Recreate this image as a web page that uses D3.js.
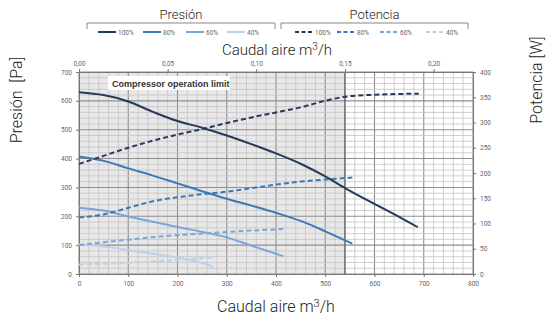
<!DOCTYPE html>
<html><head><meta charset="utf-8">
<script src="https://cdn.jsdelivr.net/npm/d3@7"></script>
<style>body{margin:0;background:#fff}svg{display:block}</style>
</head><body>
<svg id="c" width="549" height="321"></svg>
<script>
// ---- data ----
const pres100 = [[0,630],[50,620],[100,598],[150,562],[200,530],[250,507],[300,480],[350,450],[400,418],[450,382],[500,338],[540,298],[600,243],[650,198],[688,162]];
const pres80  = [[0,407],[50,392],[100,366],[150,341],[200,314],[250,287],[300,261],[350,237],[400,212],[450,184],[500,148],[555,105]];
const pres60  = [[0,230],[50,220],[100,199],[150,181],[200,163],[250,146],[300,127],[350,98],[415,62]];
const pres40  = [[0,103],[50,95],[100,83],[150,70],[200,57],[250,38],[272,25]];
const pow100  = [[0,218],[50,234],[100,250],[150,264],[200,276],[250,287],[300,299],[350,310],[400,320],[450,330],[500,343],[540,351],[600,355],[690,357]];
const pow80   = [[0,112],[50,118],[100,131],[150,144],[200,152],[250,158],[300,163],[350,170],[400,177],[450,183],[500,187],[555,191]];
const pow60   = [[0,57],[50,63],[100,68],[150,73],[200,77],[250,80],[300,83],[350,86],[415,89]];
const pow40   = [[0,19],[100,22],[200,28],[276,33]];
const xTicks = [0,100,200,300,400,500,600,700,800];
const xTopTicks = [0,0.05,0.10,0.15,0.20];
const yLeftTicks = [0,100,200,300,400,500,600,700];
const yRightTicks = [0,50,100,150,200,250,300,350,400];
const legendLabels = ["100%","80%","60%","40%"];
const limitFlow = 540;
const colors = ["#25395a","#3d78b5","#7aa6d8","#bcd2ec"];

// ---- layout ----
const svg = d3.select("#c");
const L = 79, R = 473, T = 72, B = 274;
const x = d3.scaleLinear().domain([0,800]).range([L,R]);
const xTop = d3.scaleLinear().domain([0,800/3600]).range([L,R]);
const yL = d3.scaleLinear().domain([0,700]).range([B,T]);
const yR = d3.scaleLinear().domain([0,400]).range([B,T]);

// shaded region
svg.append("rect").attr("x",x(0)).attr("y",T).attr("width",x(limitFlow)-x(0)).attr("height",B-T).attr("fill","#e8e8e8");

// grid
const g = svg.append("g");
d3.range(0,801,20).forEach(v=>{
  g.append("line").attr("x1",x(v)).attr("x2",x(v)).attr("y1",T).attr("y2",B)
   .attr("stroke", v%100===0 ? "#8f8f8f" : "#c4c4c4").attr("stroke-width", v%100===0?1.1:0.8);
});
d3.range(0,701,20).forEach(v=>{
  g.append("line").attr("x1",L).attr("x2",R).attr("y1",yL(v)).attr("y2",yL(v))
   .attr("stroke", v%100===0 ? "#8f8f8f" : "#c4c4c4").attr("stroke-width", v%100===0?1.1:0.8);
});
// limit line
svg.append("line").attr("x1",x(limitFlow)).attr("x2",x(limitFlow)).attr("y1",T).attr("y2",B).attr("stroke","#5a5a5a").attr("stroke-width",1.3);

// axes
const tickFont = "Roboto, sans-serif";
function styleAxis(sel){
  sel.selectAll("path").attr("stroke","#777");
  sel.selectAll("line").attr("stroke","#777");
  sel.selectAll("text").attr("fill","#666").attr("font-size","6.5px").attr("font-family",tickFont);
}
svg.append("g").attr("transform",`translate(0,${B})`)
  .call(d3.axisBottom(x).tickValues(xTicks).tickSize(3).tickSizeOuter(0).tickPadding(4)).call(styleAxis);
svg.append("g").attr("transform",`translate(0,${T})`)
  .call(d3.axisTop(xTop).tickValues(xTopTicks).tickSize(3).tickSizeOuter(0).tickPadding(3)
    .tickFormat(d=>d3.format(".2f")(d).replace(".",","))).call(styleAxis);
svg.append("g").attr("transform",`translate(${L},0)`)
  .call(d3.axisLeft(yL).tickValues(yLeftTicks).tickSize(3).tickSizeOuter(0).tickPadding(4)).call(styleAxis);
svg.append("g").attr("transform",`translate(${R},0)`)
  .call(d3.axisRight(yR).tickValues(yRightTicks).tickSize(3).tickSizeOuter(0).tickPadding(4)).call(styleAxis);

// label box
svg.append("rect").attr("x",108).attr("y",76).attr("width",122).attr("height",14).attr("fill","#fff");
svg.append("text").attr("x",112).attr("y",87).text("Compressor operation limit")
  .attr("font-family","Liberation Sans, Arial, sans-serif").attr("font-size","9px").attr("fill","#333").attr("font-weight","bold");

// curves
const lineL = d3.line().x(d=>x(d[0])).y(d=>yL(d[1])).curve(d3.curveMonotoneX);
const lineR = d3.line().x(d=>x(d[0])).y(d=>yR(d[1])).curve(d3.curveMonotoneX);
const presSeries = [pres100,pres80,pres60,pres40];
const powSeries = [pow100,pow80,pow60,pow40];
[3,2,1,0].forEach(i=>{
  svg.append("path").datum(powSeries[i]).attr("d",lineR).attr("fill","none")
    .attr("stroke",colors[i]).attr("stroke-width",2).attr("stroke-dasharray","5,3");
  svg.append("path").datum(presSeries[i]).attr("d",lineL).attr("fill","none")
    .attr("stroke",colors[i]).attr("stroke-width",2);
});

// axis titles
const titleFont = "Roboto, sans-serif";
function title(sel, size){
  return sel.attr("font-family",titleFont).attr("font-size",size+"px").attr("font-weight",300).attr("fill","#222").attr("text-anchor","middle");
}
title(svg.append("text").attr("x",277).attr("y",55),15)
  .html('Caudal aire m<tspan dy="-5" font-size="10px">3</tspan><tspan dy="5">/h</tspan>');
title(svg.append("text").attr("x",276).attr("y",312),16)
  .html('Caudal aire m<tspan dy="-5" font-size="11px">3</tspan><tspan dy="5">/h</tspan>');
title(svg.append("text").attr("transform","translate(22,100) rotate(-90)"),16)
  .attr("xml:space","preserve").text("Presión  [Pa]");
title(svg.append("text").attr("transform","translate(542,80) rotate(-90)"),16).text("Potencia [W]");

// legend
function bracket(x0,x1,t){
  title(svg.append("text").attr("x",(x0+x1)/2).attr("y",19),13).text(t);
  svg.append("path").attr("d",`M${x0},29V23H${x1}V29`).attr("fill","none").attr("stroke","#888").attr("stroke-width",1);
}
bracket(87,275,"Presión");
bracket(281,468,"Potencia");
const legX1 = [98,143,186,227], legX2 = [295,337,380,426];
legendLabels.forEach((lab,i)=>{
  svg.append("line").attr("x1",legX1[i]).attr("x2",legX1[i]+18).attr("y1",32).attr("y2",32)
    .attr("stroke",colors[i]).attr("stroke-width",2);
  svg.append("text").attr("x",legX1[i]+20).attr("y",34.5).text(lab)
    .attr("font-family",tickFont).attr("font-size","6.5px").attr("fill","#666");
  svg.append("line").attr("x1",legX2[i]).attr("x2",legX2[i]+18).attr("y1",32).attr("y2",32)
    .attr("stroke",colors[i]).attr("stroke-width",2).attr("stroke-dasharray","4,2.5");
  svg.append("text").attr("x",legX2[i]+20).attr("y",34.5).text(lab)
    .attr("font-family",tickFont).attr("font-size","6.5px").attr("fill","#666");
});
</script>
</body></html>
